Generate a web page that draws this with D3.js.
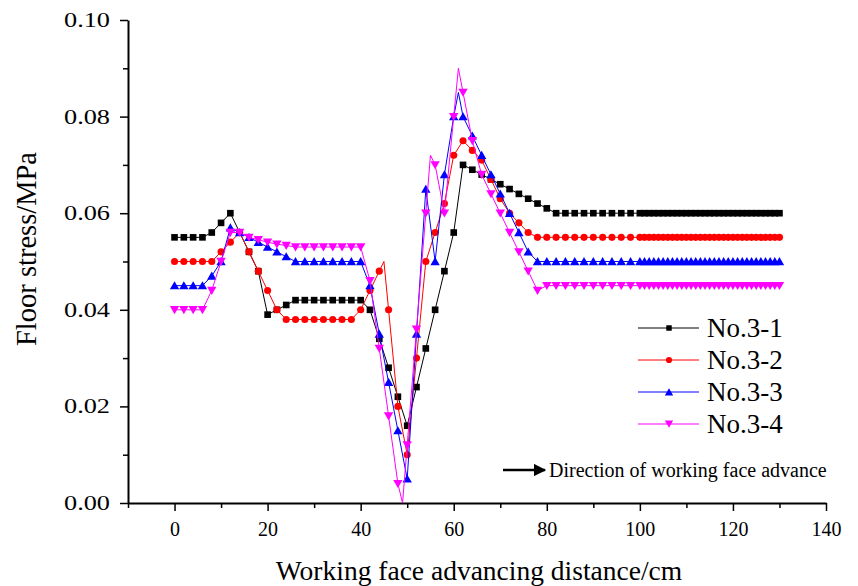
<!DOCTYPE html>
<html>
<head>
<meta charset="utf-8">
<script src="https://cdn.jsdelivr.net/npm/d3@7"></script>
<style>
  body { margin: 0; background: #fff; }
  svg text { font-family: "Liberation Serif", "Times New Roman", serif; fill: #000; }
</style>
</head>
<body>
<div id="chart"></div>
<script>
// advancing distance (cm), shared by all four series (null = no reading there)
var distance = [0, 2, 4, 6, 8, 10, 12, 14, 16, 18, 20, 22, 24, 26, 28, 30, 32, 34, 36, 38,
  40, 42, 44, 45, 46, 48, 49, 50, 52, 54, 55, 56, 58, 60, 61, 62, 64, 66, 68, 70,
  72, 74, 76, 78, 80, 82, 84, 86, 88, 90, 92, 94, 96, 98,
  100, 101, 102, 103, 104, 105, 106, 107, 108, 109, 110, 111, 112, 113, 114, 115,
  116, 117, 118, 119, 120, 121, 122, 123, 124, 125, 126, 127, 128, 129, 130];

var no31 = [0.055, 0.055, 0.055, 0.055, 0.056, 0.058, 0.060, 0.056, 0.052, 0.048, 0.039, 0.040, 0.041, 0.042, 0.042, 0.042, 0.042, 0.042, 0.042, 0.042,
  0.042, 0.040, 0.034, null, 0.028, 0.022, null, 0.016, 0.024, 0.032, null, 0.040, 0.048, 0.056, null, 0.070, 0.069, 0.068, 0.067, 0.066,
  0.065, 0.064, 0.063, 0.062, 0.061, 0.060, 0.060, 0.060, 0.060, 0.060, 0.060, 0.060, 0.060, 0.060,
  0.060, 0.060, 0.060, 0.060, 0.060, 0.060, 0.060, 0.060, 0.060, 0.060, 0.060, 0.060, 0.060, 0.060, 0.060, 0.060,
  0.060, 0.060, 0.060, 0.060, 0.060, 0.060, 0.060, 0.060, 0.060, 0.060, 0.060, 0.060, 0.060, 0.060, 0.060];

var no32 = [0.050, 0.050, 0.050, 0.050, 0.050, 0.052, 0.054, 0.056, 0.052, 0.048, 0.044, 0.040, 0.038, 0.038, 0.038, 0.038, 0.038, 0.038, 0.038, 0.038,
  0.040, 0.044, 0.048, 0.050, 0.040, 0.020, null, 0.010, 0.030, 0.050, null, 0.056, 0.062, 0.072, null, 0.075, 0.073, 0.071, 0.067, 0.063,
  0.060, 0.058, 0.056, 0.055, 0.055, 0.055, 0.055, 0.055, 0.055, 0.055, 0.055, 0.055, 0.055, 0.055,
  0.055, 0.055, 0.055, 0.055, 0.055, 0.055, 0.055, 0.055, 0.055, 0.055, 0.055, 0.055, 0.055, 0.055, 0.055, 0.055,
  0.055, 0.055, 0.055, 0.055, 0.055, 0.055, 0.055, 0.055, 0.055, 0.055, 0.055, 0.055, 0.055, 0.055, 0.055];

var no33 = [0.045, 0.045, 0.045, 0.045, 0.047, 0.050, 0.057, 0.056, 0.055, 0.054, 0.053, 0.052, 0.051, 0.050, 0.050, 0.050, 0.050, 0.050, 0.050, 0.050,
  0.050, 0.045, 0.035, null, 0.025, 0.015, null, 0.005, 0.035, 0.065, null, 0.050, 0.068, 0.080, 0.085, 0.080, 0.076, 0.072, 0.068, 0.064,
  0.060, 0.056, 0.052, 0.050, 0.050, 0.050, 0.050, 0.050, 0.050, 0.050, 0.050, 0.050, 0.050, 0.050,
  0.050, 0.050, 0.050, 0.050, 0.050, 0.050, 0.050, 0.050, 0.050, 0.050, 0.050, 0.050, 0.050, 0.050, 0.050, 0.050,
  0.050, 0.050, 0.050, 0.050, 0.050, 0.050, 0.050, 0.050, 0.050, 0.050, 0.050, 0.050, 0.050, 0.050, 0.050];

var no34 = [0.040, 0.040, 0.040, 0.040, 0.044, 0.050, 0.056, 0.056, 0.055, 0.0545, 0.054, 0.0536, 0.0533, 0.053, 0.053, 0.053, 0.053, 0.053, 0.053, 0.053,
  0.053, 0.046, 0.032, null, 0.018, 0.004, 0.000, 0.012, 0.036, 0.060, 0.072, 0.070, 0.060, 0.080, 0.090, 0.085, 0.075, 0.068, 0.064, 0.060,
  0.056, 0.052, 0.048, 0.044, 0.045, 0.045, 0.045, 0.045, 0.045, 0.045, 0.045, 0.045, 0.045, 0.045,
  0.045, 0.045, 0.045, 0.045, 0.045, 0.045, 0.045, 0.045, 0.045, 0.045, 0.045, 0.045, 0.045, 0.045, 0.045, 0.045,
  0.045, 0.045, 0.045, 0.045, 0.045, 0.045, 0.045, 0.045, 0.045, 0.045, 0.045, 0.045, 0.045, 0.045, 0.045];

var seriesNames = ['No.3-1', 'No.3-2', 'No.3-3', 'No.3-4'];
var seriesValues = [no31, no32, no33, no34];
var seriesColors = ['#000000', '#ff0000', '#0000ff', '#ff00ff'];
var seriesSymbols = [d3.symbolSquare, d3.symbolCircle, d3.symbolTriangle, d3.symbolTriangle];

var xTicks = [0, 20, 40, 60, 80, 100, 120, 140];
var xMinor = [-10, 10, 30, 50, 70, 90, 110, 130];
var yTicks = [0, 0.02, 0.04, 0.06, 0.08, 0.10];
var yMinor = [0.01, 0.03, 0.05, 0.07, 0.09];

var serif = '"Liberation Serif", "Times New Roman", serif';
var width = 858, height = 586;
var plotLeft = 128, plotRight = 826, plotTop = 20, plotBottom = 503;

var svg = d3.select('#chart').append('svg')
  .attr('width', width)
  .attr('height', height);

var xScale = d3.scaleLinear().domain([-10, 140]).range([plotLeft, plotRight]);
var yScale = d3.scaleLinear().domain([0, 0.10]).range([plotBottom, plotTop]);

// minor ticks first, then the main axes on top
svg.append('g')
  .attr('transform', 'translate(0,' + plotBottom + ')')
  .call(d3.axisBottom(xScale).tickValues(xMinor).tickSize(5).tickFormat(''))
  .call(function(g){ g.select('.domain').remove(); })
  .selectAll('line').attr('stroke-width', 1.5);

svg.append('g')
  .attr('transform', 'translate(' + plotLeft + ',0)')
  .call(d3.axisLeft(yScale).tickValues(yMinor).tickSize(5).tickFormat(''))
  .call(function(g){ g.select('.domain').remove(); })
  .selectAll('line').attr('stroke-width', 1.5);

var xAxis = svg.append('g')
  .attr('transform', 'translate(0,' + plotBottom + ')')
  .attr('font-family', serif)
  .call(d3.axisBottom(xScale).tickValues(xTicks).tickSizeInner(8).tickSizeOuter(0).tickPadding(11));
xAxis.selectAll('text').attr('font-size', 20).attr('font-family', serif);

var yAxis = svg.append('g')
  .attr('transform', 'translate(' + plotLeft + ',0)')
  .attr('font-family', serif)
  .call(d3.axisLeft(yScale).tickValues(yTicks).tickSizeInner(8).tickSizeOuter(0).tickPadding(10)
    .tickFormat(d3.format('.2f')));
yAxis.selectAll('text')
  .attr('font-size', 20)
  .attr('font-family', serif)
  .attr('textLength', 46)
  .attr('lengthAdjust', 'spacingAndGlyphs');

svg.selectAll('.domain').attr('stroke-width', 2);
svg.selectAll('.tick line').attr('stroke-width', 1.5);

svg.append('text')
  .attr('x', (xScale(-10) + xScale(140)) / 2 + 2)
  .attr('y', 580)
  .attr('text-anchor', 'middle')
  .attr('font-family', serif)
  .attr('font-size', 27.5)
  .text('Working face advancing distance/cm');

svg.append('text')
  .attr('transform', 'translate(36,249) rotate(-90)')
  .attr('text-anchor', 'middle')
  .attr('font-family', serif)
  .attr('font-size', 28.5)
  .text('Floor stress/MPa');

var line = d3.line()
  .x(function(d){ return xScale(d.x); })
  .y(function(d){ return yScale(d.y); });

var markerSizes = [44, 40, 38, 38];

function markerPath(i, size) {
  return d3.symbol().type(seriesSymbols[i]).size(size)();
}

seriesValues.forEach(function(vals, i) {
  var pts = [];
  distance.forEach(function(x, j) {
    if (vals[j] !== null) pts.push({x: x, y: vals[j]});
  });

  svg.append('path')
    .datum(pts)
    .attr('fill', 'none')
    .attr('stroke', seriesColors[i])
    .attr('stroke-width', 1)
    .attr('d', line);

  // markers on even distances and every reading from 100 cm on
  var marked = pts.filter(function(d){ return d.x % 2 === 0 || d.x >= 100; });
  svg.append('g').selectAll('path')
    .data(marked)
    .enter()
    .append('path')
    .attr('transform', function(d) {
      var rot = i === 3 ? ' rotate(180)' : '';
      var dy = i === 2 ? 1 : (i === 3 ? -1 : 0);
      return 'translate(' + xScale(d.x) + ',' + (yScale(d.y) + dy) + ')' + rot;
    })
    .attr('d', markerPath(i, markerSizes[i]))
    .attr('fill', seriesColors[i]);
});

// legend
var legend = svg.append('g').attr('transform', 'translate(638,328)');
seriesNames.forEach(function(name, i) {
  var row = legend.append('g').attr('transform', 'translate(0,' + (i * 32) + ')');
  row.append('line')
    .attr('x1', 0).attr('x2', 61)
    .attr('stroke', seriesColors[i]).attr('stroke-width', 1);
  row.append('path')
    .attr('transform', 'translate(31,' + (i === 2 ? 1 : (i === 3 ? -1 : 0)) + ')' + (i === 3 ? ' rotate(180)' : ''))
    .attr('d', markerPath(i, 30))
    .attr('fill', seriesColors[i]);
  row.append('text')
    .attr('x', 69).attr('y', 9)
    .attr('font-family', serif)
    .attr('font-size', 27)
    .text(name);
});

// direction arrow
svg.append('defs').append('marker')
  .attr('id', 'arrow')
  .attr('viewBox', '0 0 10 10')
  .attr('refX', 9).attr('refY', 5)
  .attr('markerWidth', 5).attr('markerHeight', 5)
  .attr('orient', 'auto')
  .append('path')
  .attr('d', 'M0,0L10,5L0,10Z')
  .attr('fill', '#000');

svg.append('line')
  .attr('x1', 503).attr('x2', 545)
  .attr('y1', 470).attr('y2', 470)
  .attr('stroke', '#000').attr('stroke-width', 2.5)
  .attr('marker-end', 'url(#arrow)');

svg.append('text')
  .attr('x', 549).attr('y', 477)
  .attr('font-family', serif)
  .attr('font-size', 20)
  .text('Direction of working face advance');
</script>
</body>
</html>
